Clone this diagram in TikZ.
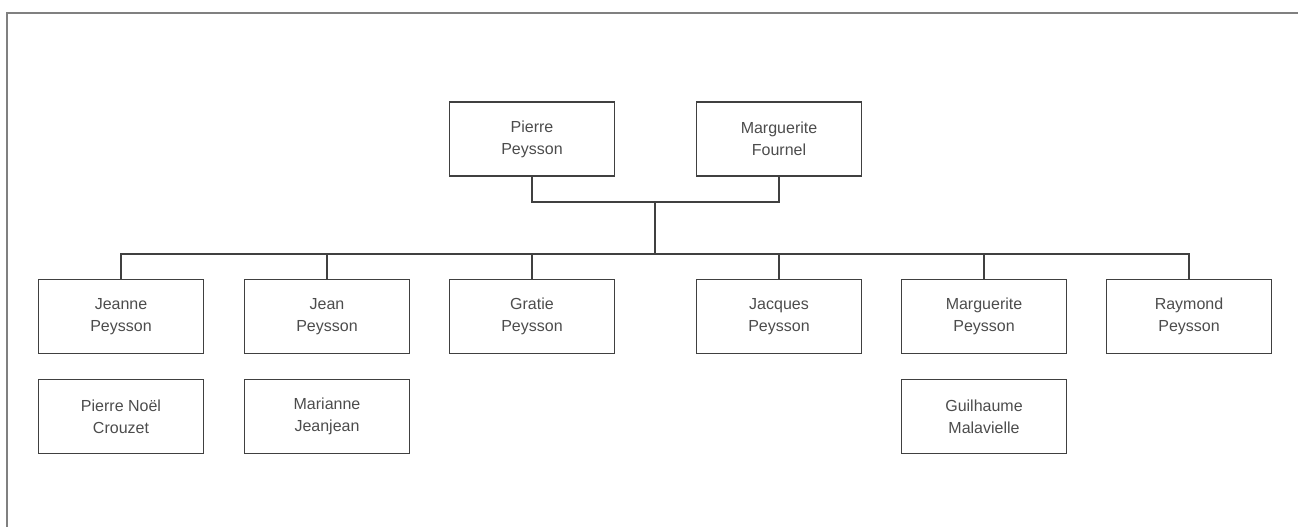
\documentclass[tikz,border=0pt]{standalone}
\usepackage{fontspec}
\setmainfont{Liberation Sans}
\usepackage{xcolor}
\usepackage{tikz}

\begin{document}
\begin{tikzpicture}[
    x=1pt,y=1pt,
    every node/.style={font=\fontsize{16}{22}\selectfont},
    person/.style={draw=black!75,line width=1.5pt,minimum width=165pt,
      minimum height=74pt,align=center,text=black!70,inner sep=0pt},
    link/.style={black!75,line width=1.5pt},
    frame/.style={black!50,line width=2pt},
  ]
  \useasboundingbox (0,0) rectangle (1298,527);

  % -- the sheet edge --
  \draw[frame] (7,0) -- (7,514) -- (1298,514);

  % -- the couple --
  \node[person] (pp) at (532,388) {Pierre\\Peysson};
  \node[person] (mf) at (779,388) {Marguerite\\Fournel};

  % -- the children --
  \node[person] (jne) at (121,210.5) {Jeanne\\Peysson};
  \node[person] (jn)  at (327,210.5) {Jean\\Peysson};
  \node[person] (gr)  at (532,210.5) {Gratie\\Peysson};
  \node[person] (jq)  at (779,210.5) {Jacques\\Peysson};
  \node[person] (mg)  at (984,210.5) {Marguerite\\Peysson};
  \node[person] (ry)  at (1189,210.5) {Raymond\\Peysson};

  % -- their spouses --
  \node[person] (pnc) at (121,110.5) {Pierre Noël\\Crouzet};
  \node[person] (mj)  at (327,110.5) {Marianne\\Jeanjean};
  \node[person] (gm)  at (984,110.5) {Guilhaume\\Malavielle};

  % -- the lines of descent --
  \coordinate (cpl) at (655,325);
  \coordinate (bus) at (655,273);
  \draw[link] (pp.south) |- (cpl) -| (mf.south);
  \draw[link] (cpl) -- (bus);
  \foreach \c in {jne,jn,gr,jq,mg,ry}
    \draw[link] (bus) -| (\c.north);
\end{tikzpicture}
\end{document}
